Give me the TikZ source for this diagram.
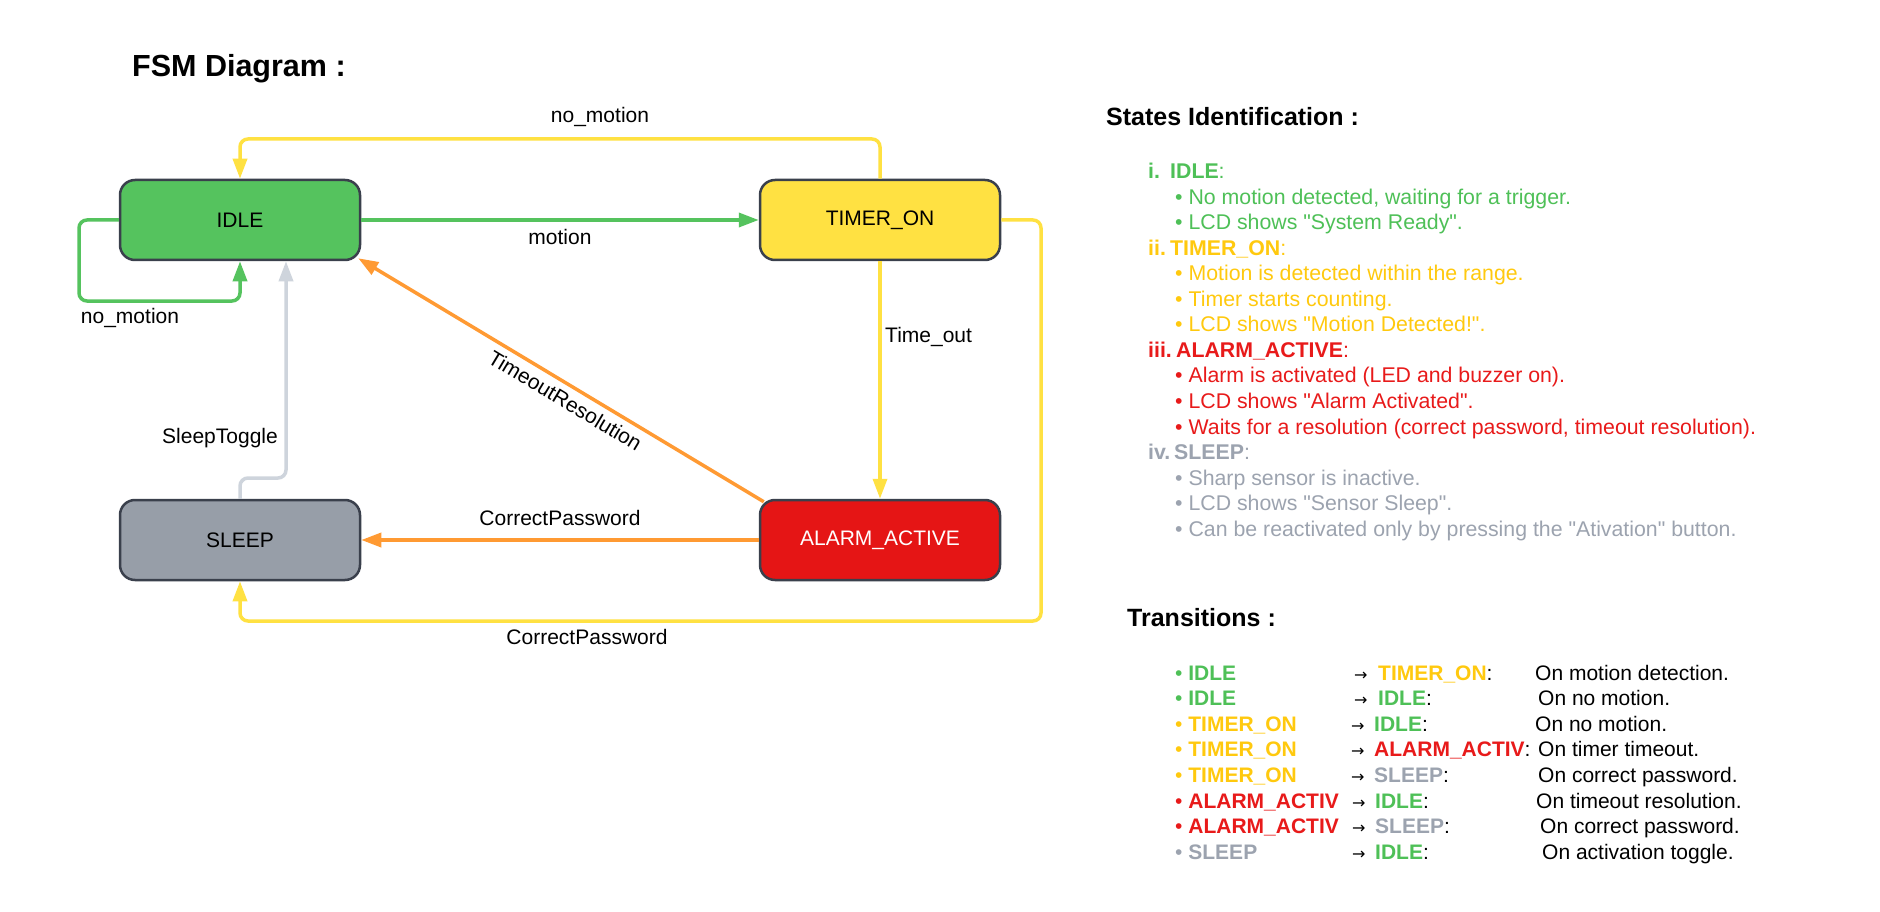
\documentclass[tikz,border=0pt]{standalone}
\usepackage{fontspec}
\setmainfont{Liberation Sans}[Ligatures=TeXOff]
\newfontfamily\arrowfont{DejaVu Sans}
\usetikzlibrary{arrows.meta}
\definecolor{cgreen}{HTML}{55C35E}
\definecolor{tgreen}{HTML}{4EC057}
\definecolor{cyellow}{HTML}{FFE142}
\definecolor{tyellow}{HTML}{FFC90E}
\definecolor{cred}{HTML}{E51515}
\definecolor{tred}{HTML}{E81A1A}
\definecolor{cgray}{HTML}{979EA8}
\definecolor{tgray}{HTML}{9CA3AF}
\definecolor{lgray}{HTML}{CED4DC}
\definecolor{corange}{HTML}{FF9A33}
\definecolor{border}{HTML}{3A404C}
\newcommand{\myarrow}{{\arrowfont\fontsize{16}{18}\selectfont →}}
\begin{document}
\begin{tikzpicture}[x=1pt,y=-1pt,
  fsmstate/.style={draw=border, line width=2.5pt, rounded corners=15pt, minimum width=240pt, minimum height=80pt, inner sep=0pt, font=\fontsize{21}{25}\selectfont},
  conn/.style={line width=3.5pt, rounded corners=8pt, -{Triangle[length=20pt,width=14pt]}},
  lbl/.style={inner sep=0pt, text=black, font=\fontsize{21}{25}\selectfont},
  txt/.style={anchor=base west, inner sep=0pt, font=\fontsize{21}{25}\selectfont},
  stxt/.style={anchor=base west, inner sep=0pt, font=\fontsize{21.3}{25}\selectfont},
  head/.style={anchor=base west, inner sep=0pt, font=\fontsize{25}{30}\selectfont\bfseries}]
\useasboundingbox (0,0) rectangle (1880,912);
\fill[white] (0,0) rectangle (1880,912);

% title
\node[anchor=base west, inner sep=0pt, font=\fontsize{30.5}{36}\selectfont\bfseries] (title) at (132,76.5) {FSM Diagram :};

% states
\node[fsmstate, fill=cgreen] (idle) at (240,220) {IDLE};
\node[fsmstate, fill=cyellow] (timer) at (880,220) {TIMER\_ON};
\node[fsmstate, fill=cgray] (sleep) at (240,540) {SLEEP};
\node[fsmstate, fill=cred, text=white] (alarm) at (880,540) {ALARM\_ACTIVE};

% helper coordinates
\coordinate (ytop) at (560,139);
\coordinate (loopL) at (79,301);
\coordinate (yright) at (1041,621);
\coordinate (gbend) at (286,478);

% connectors
\draw[conn, cgreen] (idle.east) -- (timer.west);
\draw[conn, cyellow] (timer.north) -- (timer.north |- ytop) -- (idle.north |- ytop) -- (idle.north);
\draw[conn, cgreen] (idle.west) -- (loopL |- idle.west) -- (loopL) -- (idle.south |- loopL) -- (idle.south);
\draw[conn, cyellow] (timer.south) -- (alarm.north);
\draw[conn, cyellow] (timer.east) -- (yright |- timer.east) -- (yright) -- (sleep.south |- yright) -- (sleep.south);
\draw[conn, corange] ([shift={(5,3)}]alarm.north west) -- node[lbl, sloped, below=6pt, pos=0.47] (lto) {TimeoutResolution} ([shift={(-3,-3)}]idle.south east);
\draw[conn, corange] (alarm.west) -- (sleep.east);
\draw[conn, lgray] (sleep.north) -- (sleep.north |- gbend) -- (gbend) -- (gbend |- idle.south);

% connector labels
\node[lbl] (lmotion) at (560,237) {motion};
\node[lbl] (lnm1) at (600,117) {no\_motion};
\node[lbl] (lnm2) at (130,318) {no\_motion};
\node[lbl, anchor=west] (ltime) at (885,337) {Time\_out};
\node[lbl] (lcp1) at (560,518) {CorrectPassword};
\node[lbl] (lcp2) at (587,637) {CorrectPassword};
\node[lbl] (lsleep) at (220,438) {SleepToggle};

% States identification
\node[head] (sh) at (1106,126) {States Identification :};
\node[stxt, text=tgreen] (s1) at (1148,178.5) {\bfseries i.};
\node[stxt, text=tgreen] (s1n) at (1170,178.5) {\textbf{IDLE}:};
\node[stxt, text=tgreen] (s1a) at (1175,204.1) {• No motion detected, waiting for a trigger.};
\node[stxt, text=tgreen] (s1b) at (1175,229.6) {• LCD shows "System Ready".};
\node[stxt, text=tyellow] (s2) at (1148,255.2) {\bfseries ii.};
\node[stxt, text=tyellow] (s2n) at (1170,255.2) {\textbf{TIMER\_ON}:};
\node[stxt, text=tyellow] (s2a) at (1175,280.7) {• Motion is detected within the range.};
\node[stxt, text=tyellow] (s2b) at (1175,306.3) {• Timer starts counting.};
\node[stxt, text=tyellow] (s2c) at (1175,331.8) {• LCD shows "Motion Detected!".};
\node[stxt, text=tred] (s3) at (1148,357.4) {\bfseries iii.};
\node[stxt, text=tred] (s3n) at (1176,357.4) {\textbf{ALARM\_ACTIVE}:};
\node[stxt, text=tred] (s3a) at (1175,382.9) {• Alarm is activated (LED and buzzer on).};
\node[stxt, text=tred] (s3b) at (1175,408.5) {• LCD shows "Alarm Activated".};
\node[stxt, text=tred] (s3c) at (1175,434.0) {• Waits for a resolution (correct password, timeout resolution).};
\node[stxt, text=tgray] (s4) at (1148,459.6) {\bfseries iv.};
\node[stxt, text=tgray] (s4n) at (1174,459.6) {\textbf{SLEEP}:};
\node[stxt, text=tgray] (s4a) at (1175,485.1) {• Sharp sensor is inactive.};
\node[stxt, text=tgray] (s4b) at (1175,510.7) {• LCD shows "Sensor Sleep".};
\node[stxt, text=tgray] (s4c) at (1175,536.2) {• Can be reactivated only by pressing the "Ativation" button.};

% Transitions
\node[head] (th) at (1127,626) {Transitions :};
% row 1
\node[txt, text=tgreen] (t1a) at (1175,680) {• \textbf{IDLE}};
\node[txt] (t1r) at (1354,680) {\myarrow};
\node[txt] (t1b) at (1378,680) {\textcolor{tyellow}{\textbf{TIMER\_ON}}:};
\node[txt] (t1c) at (1535,680) {On motion detection.};
% row 2
\node[txt, text=tgreen] (t2a) at (1175,705.6) {• \textbf{IDLE}};
\node[txt] (t2r) at (1354,705.6) {\myarrow};
\node[txt] (t2b) at (1378,705.6) {\textcolor{tgreen}{\textbf{IDLE}}:};
\node[txt] (t2c) at (1538,705.6) {On no motion.};
% row 3
\node[txt, text=tyellow] (t3a) at (1175,731.2) {• \textbf{TIMER\_ON}};
\node[txt] (t3r) at (1351,731.2) {\myarrow};
\node[txt] (t3b) at (1374,731.2) {\textcolor{tgreen}{\textbf{IDLE}}:};
\node[txt] (t3c) at (1535,731.2) {On no motion.};
% row 4
\node[txt, text=tyellow] (t4a) at (1175,756.8) {• \textbf{TIMER\_ON}};
\node[txt] (t4r) at (1351,756.8) {\myarrow};
\node[txt] (t4b) at (1374,756.8) {\textcolor{tred}{\textbf{ALARM\_ACTIV}}:};
\node[txt] (t4c) at (1538,756.8) {On timer timeout.};
% row 5
\node[txt, text=tyellow] (t5a) at (1175,782.4) {• \textbf{TIMER\_ON}};
\node[txt] (t5r) at (1351,782.4) {\myarrow};
\node[txt] (t5b) at (1374,782.4) {\textcolor{tgray}{\textbf{SLEEP}}:};
\node[txt] (t5c) at (1538,782.4) {On correct password.};
% row 6
\node[txt, text=tred] (t6a) at (1175,808) {• \textbf{ALARM\_ACTIV}};
\node[txt] (t6r) at (1352,808) {\myarrow};
\node[txt] (t6b) at (1375,808) {\textcolor{tgreen}{\textbf{IDLE}}:};
\node[txt] (t6c) at (1536,808) {On timeout resolution.};
% row 7
\node[txt, text=tred] (t7a) at (1175,833.6) {• \textbf{ALARM\_ACTIV}};
\node[txt] (t7r) at (1352,833.6) {\myarrow};
\node[txt] (t7b) at (1375,833.6) {\textcolor{tgray}{\textbf{SLEEP}}:};
\node[txt] (t7c) at (1540,833.6) {On correct password.};
% row 8
\node[txt, text=tgray] (t8a) at (1175,859.2) {• \textbf{SLEEP}};
\node[txt] (t8r) at (1352,859.2) {\myarrow};
\node[txt] (t8b) at (1375,859.2) {\textcolor{tgreen}{\textbf{IDLE}}:};
\node[txt] (t8c) at (1542,859.2) {On activation toggle.};
\end{tikzpicture}
\end{document}
